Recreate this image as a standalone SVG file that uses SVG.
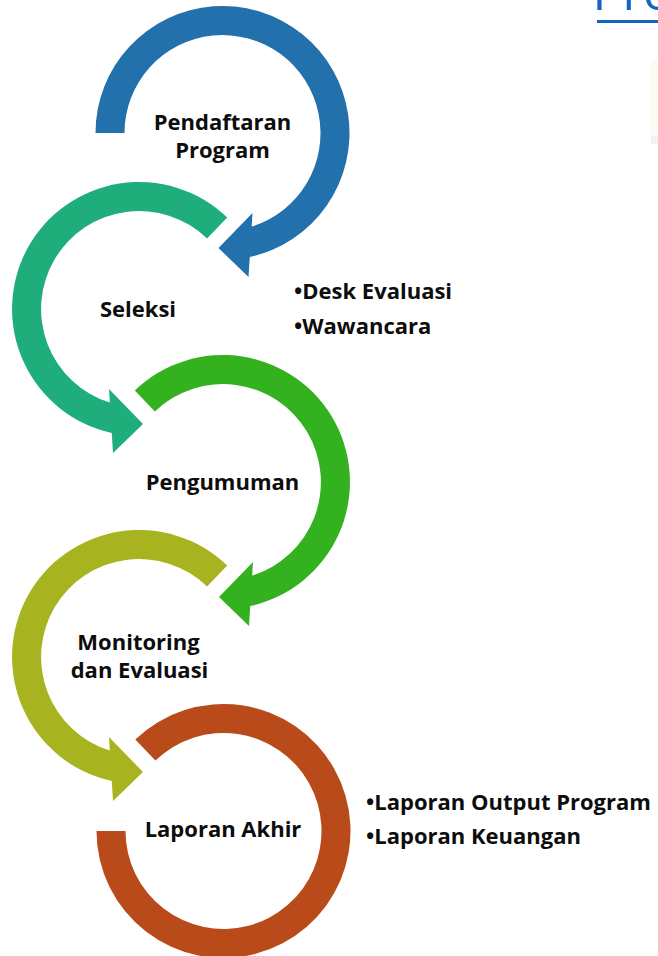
<svg xmlns="http://www.w3.org/2000/svg" width="658" height="956" viewBox="0 0 658 956">
<style>
  .lbl { font-family: "Open Sans", "Liberation Sans", sans-serif; font-weight: 700; font-size: 22px; fill: #0d0d0d; text-anchor: middle; }
  .bul { font-family: "Open Sans", "Liberation Sans", sans-serif; font-weight: 700; font-size: 22px; fill: #0d0d0d; }
  .title { font-family: "Open Sans", "Liberation Sans", sans-serif; font-size: 50px; fill: #1565C0; }
</style>
<defs>
  <path id="arrowR" d="M-88.2,-91.4 A127,127 0 1 1 27.25,124.05 L26,144 L-4,115 L30,80 L29.15,93.6 A98,98 0 1 0 -68.1,-70.5 Z"/>
</defs>
<rect width="658" height="956" fill="#ffffff"/>

<g id="title">
  <text class="title" x="592.5" y="9.5">Pro</text>
  <rect x="597" y="20" width="61" height="3" fill="#1565C0"/>
  <rect x="651" y="60" width="7" height="76" fill="#FDFCF3"/>
  <rect x="651" y="136" width="7" height="8" fill="#F2F2F2"/>
</g>

<g id="connectors"></g>

<g id="step-pendaftaran">
  <path transform="translate(222.5,133)" fill="#2270AC" d="M-127,0 A127,127 0 1 1 27.25,124.05 L26,144 L-4,115 L30,80 L29.15,93.6 A98,98 0 1 0 -98,0 Z"/>
  <text class="lbl" x="222.5" y="130">Pendaftaran</text>
  <text class="lbl" x="222.5" y="158">Program</text>
</g>

<g id="step-seleksi">
  <use href="#arrowR" transform="translate(139,309) scale(-1,1)" fill="#1FAE7B"/>
  <text class="lbl" x="138" y="317">Seleksi</text>
</g>

<g id="notes-seleksi">
  <text class="bul" x="294" y="299">•Desk Evaluasi</text>
  <text class="bul" x="294" y="334">•Wawancara</text>
</g>

<g id="step-pengumuman">
  <use href="#arrowR" transform="translate(223,482)" fill="#33B11F"/>
  <text class="lbl" x="222.5" y="490">Pengumuman</text>
</g>

<g id="step-monev">
  <use href="#arrowR" transform="translate(139,657) scale(-1,1)" fill="#A8B41F"/>
  <text class="lbl" x="138.5" y="650">Monitoring</text>
  <text class="lbl" x="139.5" y="678">dan Evaluasi</text>
</g>

<g id="step-laporan">
  <path transform="translate(223.5,831)" fill="#B94A1A" d="M-88.2,-91.4 A127,127 0 1 1 -127,0 L-98,0 A98,98 0 1 0 -68.1,-70.5 Z"/>
  <text class="lbl" x="223" y="837">Laporan Akhir</text>
</g>

<g id="notes-laporan">
  <text class="bul" x="366" y="810">•Laporan Output Program</text>
  <text class="bul" x="366" y="844">•Laporan Keuangan</text>
</g>
</svg>
